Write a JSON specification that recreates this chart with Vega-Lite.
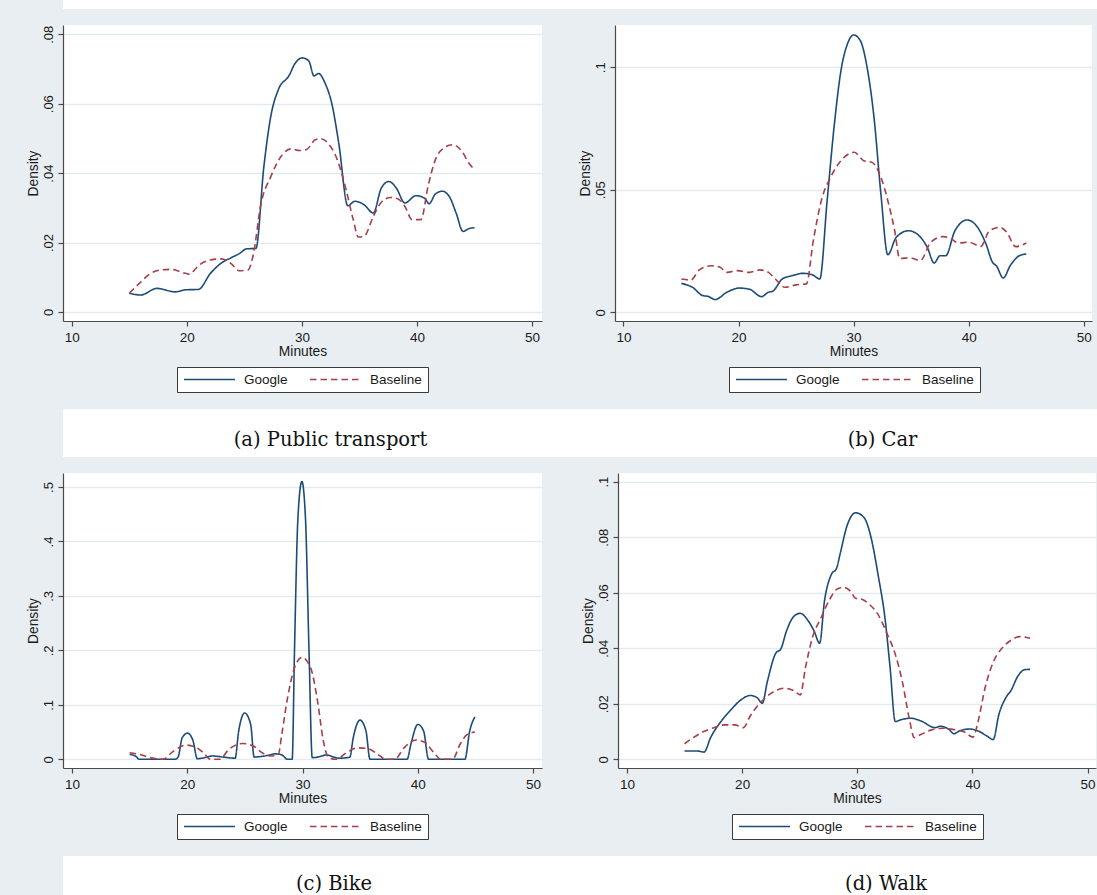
{
  "$schema": "https://vega.github.io/schema/vega-lite/v6.json",
  "background": "#e8eef1",
  "padding": {"left": 26, "top": 0, "right": 0, "bottom": 0},
  "autosize": {"type": "pad"},
  "config": {
    "font": "Liberation Sans",
    "view": {"stroke": null},
    "axis": {
      "domainColor": "#4a4a4a", "domainWidth": 1.2, "tickColor": "#4a4a4a", "tickWidth": 1.2, "tickSize": 5,
      "labelFont": "Liberation Sans", "labelFontSize": 13, "labelColor": "#1a1a1a",
      "titleFont": "Liberation Sans", "titleFontSize": 13.8, "titleFontWeight": "normal", "titleColor": "#1a1a1a",
      "gridColor": "#e2ebef", "gridWidth": 1.3, "labelFlush": false, "labelOverlap": false
    },
    "axisY": {"labelAngle": 270, "labelAlign": "center", "labelBaseline": "bottom", "labelPadding": 3, "titlePadding": 2, "grid": true},
    "axisX": {"labelPadding": 4, "titlePadding": 1, "labelFontSize": 13.5, "grid": false},
    "legend": {
      "orient": "none", "legendX": 114, "direction": "horizontal",
      "symbolType": "stroke", "symbolSize": 2601, "symbolStrokeWidth": 1.6, "clipHeight": 13,
      "labelFont": "Liberation Sans", "labelFontSize": 13.5, "labelColor": "#1a1a1a",
      "labelOffset": 8, "columnPadding": 21, "padding": 6,
      "strokeColor": "#3a3a3a", "fillColor": "white"
    },
    "line": {"strokeWidth": 1.6, "interpolate": "monotone"}
  },
  "datasets": {
    "captions": [
      {"caption": "(a) Public transport"}, {"caption": "(b) Car"}, {"caption": "(c) Bike"}, {"caption": "(d) Walk"}
    ],
    "pt": [
      {"minutes": 15.0, "density": 0.0054, "series": "Google"},
      {"minutes": 16.0, "density": 0.0049, "series": "Google"},
      {"minutes": 17.4, "density": 0.0068, "series": "Google"},
      {"minutes": 19.0, "density": 0.0058, "series": "Google"},
      {"minutes": 19.9, "density": 0.0064, "series": "Google"},
      {"minutes": 21.0, "density": 0.0065, "series": "Google"},
      {"minutes": 22.07, "density": 0.0112, "series": "Google"},
      {"minutes": 23.0, "density": 0.0141, "series": "Google"},
      {"minutes": 23.9, "density": 0.0157, "series": "Google"},
      {"minutes": 24.6, "density": 0.0169, "series": "Google"},
      {"minutes": 25.2, "density": 0.0182, "series": "Google"},
      {"minutes": 26.0, "density": 0.0183, "series": "Google"},
      {"minutes": 26.7, "density": 0.042, "series": "Google"},
      {"minutes": 27.3, "density": 0.0564, "series": "Google"},
      {"minutes": 27.96, "density": 0.0641, "series": "Google"},
      {"minutes": 28.9, "density": 0.0682, "series": "Google"},
      {"minutes": 29.35, "density": 0.0713, "series": "Google"},
      {"minutes": 30.03, "density": 0.0732, "series": "Google"},
      {"minutes": 30.6, "density": 0.0723, "series": "Google"},
      {"minutes": 31.05, "density": 0.068, "series": "Google"},
      {"minutes": 31.45, "density": 0.0687, "series": "Google"},
      {"minutes": 32.0, "density": 0.066, "series": "Google"},
      {"minutes": 32.6, "density": 0.060, "series": "Google"},
      {"minutes": 33.2, "density": 0.0487, "series": "Google"},
      {"minutes": 33.99, "density": 0.0306, "series": "Google"},
      {"minutes": 34.6, "density": 0.0319, "series": "Google"},
      {"minutes": 35.4, "density": 0.0309, "series": "Google"},
      {"minutes": 36.2, "density": 0.0285, "series": "Google"},
      {"minutes": 36.9, "density": 0.0357, "series": "Google"},
      {"minutes": 37.55, "density": 0.0376, "series": "Google"},
      {"minutes": 38.2, "density": 0.0357, "series": "Google"},
      {"minutes": 38.95, "density": 0.0314, "series": "Google"},
      {"minutes": 39.9, "density": 0.0335, "series": "Google"},
      {"minutes": 40.65, "density": 0.0328, "series": "Google"},
      {"minutes": 41.05, "density": 0.0312, "series": "Google"},
      {"minutes": 41.6, "density": 0.034, "series": "Google"},
      {"minutes": 42.2, "density": 0.0348, "series": "Google"},
      {"minutes": 42.8, "density": 0.0333, "series": "Google"},
      {"minutes": 43.4, "density": 0.0285, "series": "Google"},
      {"minutes": 44.0, "density": 0.0232, "series": "Google"},
      {"minutes": 44.5, "density": 0.024, "series": "Google"},
      {"minutes": 45.0, "density": 0.0243, "series": "Google"},
      {"minutes": 15.0, "density": 0.0054, "series": "Baseline"},
      {"minutes": 15.9, "density": 0.0083, "series": "Baseline"},
      {"minutes": 16.8, "density": 0.011, "series": "Baseline"},
      {"minutes": 17.7, "density": 0.0121, "series": "Baseline"},
      {"minutes": 18.67, "density": 0.0123, "series": "Baseline"},
      {"minutes": 19.6, "density": 0.0114, "series": "Baseline"},
      {"minutes": 20.2, "density": 0.0109, "series": "Baseline"},
      {"minutes": 21.1, "density": 0.0136, "series": "Baseline"},
      {"minutes": 22.07, "density": 0.015, "series": "Baseline"},
      {"minutes": 23.0, "density": 0.0153, "series": "Baseline"},
      {"minutes": 23.8, "density": 0.0141, "series": "Baseline"},
      {"minutes": 24.55, "density": 0.0119, "series": "Baseline"},
      {"minutes": 25.3, "density": 0.0121, "series": "Baseline"},
      {"minutes": 25.8, "density": 0.0169, "series": "Baseline"},
      {"minutes": 26.4, "density": 0.0304, "series": "Baseline"},
      {"minutes": 27.3, "density": 0.039, "series": "Baseline"},
      {"minutes": 28.3, "density": 0.0453, "series": "Baseline"},
      {"minutes": 29.04, "density": 0.047, "series": "Baseline"},
      {"minutes": 29.8, "density": 0.0465, "series": "Baseline"},
      {"minutes": 30.4, "density": 0.0468, "series": "Baseline"},
      {"minutes": 31.2, "density": 0.0497, "series": "Baseline"},
      {"minutes": 31.67, "density": 0.0499, "series": "Baseline"},
      {"minutes": 32.3, "density": 0.0485, "series": "Baseline"},
      {"minutes": 33.07, "density": 0.0439, "series": "Baseline"},
      {"minutes": 33.84, "density": 0.0352, "series": "Baseline"},
      {"minutes": 34.46, "density": 0.0266, "series": "Baseline"},
      {"minutes": 34.9, "density": 0.0216, "series": "Baseline"},
      {"minutes": 35.4, "density": 0.0218, "series": "Baseline"},
      {"minutes": 36.2, "density": 0.0275, "series": "Baseline"},
      {"minutes": 36.9, "density": 0.0316, "series": "Baseline"},
      {"minutes": 37.7, "density": 0.033, "series": "Baseline"},
      {"minutes": 38.33, "density": 0.0326, "series": "Baseline"},
      {"minutes": 38.95, "density": 0.0304, "series": "Baseline"},
      {"minutes": 39.57, "density": 0.0266, "series": "Baseline"},
      {"minutes": 40.34, "density": 0.0266, "series": "Baseline"},
      {"minutes": 40.96, "density": 0.0362, "series": "Baseline"},
      {"minutes": 41.6, "density": 0.0439, "series": "Baseline"},
      {"minutes": 42.35, "density": 0.0473, "series": "Baseline"},
      {"minutes": 43.1, "density": 0.0482, "series": "Baseline"},
      {"minutes": 43.9, "density": 0.0463, "series": "Baseline"},
      {"minutes": 44.5, "density": 0.0429, "series": "Baseline"},
      {"minutes": 45.0, "density": 0.041, "series": "Baseline"}
    ],
    "car": [
      {"minutes": 15.04, "density": 0.0118, "series": "Google"},
      {"minutes": 16.0, "density": 0.0102, "series": "Google"},
      {"minutes": 16.9, "density": 0.0068, "series": "Google"},
      {"minutes": 17.36, "density": 0.0065, "series": "Google"},
      {"minutes": 17.96, "density": 0.0052, "series": "Google"},
      {"minutes": 19.0, "density": 0.0082, "series": "Google"},
      {"minutes": 20.06, "density": 0.0099, "series": "Google"},
      {"minutes": 20.96, "density": 0.0094, "series": "Google"},
      {"minutes": 22.0, "density": 0.0064, "series": "Google"},
      {"minutes": 22.6, "density": 0.0082, "series": "Google"},
      {"minutes": 22.97, "density": 0.0086, "series": "Google"},
      {"minutes": 23.8, "density": 0.0136, "series": "Google"},
      {"minutes": 24.7, "density": 0.015, "series": "Google"},
      {"minutes": 25.56, "density": 0.0159, "series": "Google"},
      {"minutes": 26.37, "density": 0.0154, "series": "Google"},
      {"minutes": 27.06, "density": 0.0136, "series": "Google"},
      {"minutes": 27.7, "density": 0.0456, "series": "Google"},
      {"minutes": 28.3, "density": 0.0755, "series": "Google"},
      {"minutes": 28.9, "density": 0.0986, "series": "Google"},
      {"minutes": 29.5, "density": 0.110, "series": "Google"},
      {"minutes": 30.0, "density": 0.1132, "series": "Google"},
      {"minutes": 30.57, "density": 0.111, "series": "Google"},
      {"minutes": 31.17, "density": 0.100, "series": "Google"},
      {"minutes": 31.77, "density": 0.0796, "series": "Google"},
      {"minutes": 32.37, "density": 0.0483, "series": "Google"},
      {"minutes": 32.97, "density": 0.0235, "series": "Google"},
      {"minutes": 33.7, "density": 0.0306, "series": "Google"},
      {"minutes": 34.77, "density": 0.0333, "series": "Google"},
      {"minutes": 35.68, "density": 0.0313, "series": "Google"},
      {"minutes": 36.4, "density": 0.0265, "series": "Google"},
      {"minutes": 37.0, "density": 0.0201, "series": "Google"},
      {"minutes": 37.5, "density": 0.0231, "series": "Google"},
      {"minutes": 38.0, "density": 0.0231, "series": "Google"},
      {"minutes": 38.8, "density": 0.0333, "series": "Google"},
      {"minutes": 39.86, "density": 0.0377, "series": "Google"},
      {"minutes": 40.77, "density": 0.0347, "series": "Google"},
      {"minutes": 41.5, "density": 0.0279, "series": "Google"},
      {"minutes": 42.07, "density": 0.0204, "series": "Google"},
      {"minutes": 42.4, "density": 0.019, "series": "Google"},
      {"minutes": 43.0, "density": 0.014, "series": "Google"},
      {"minutes": 43.6, "density": 0.019, "series": "Google"},
      {"minutes": 44.4, "density": 0.0231, "series": "Google"},
      {"minutes": 45.0, "density": 0.0238, "series": "Google"},
      {"minutes": 15.04, "density": 0.0136, "series": "Baseline"},
      {"minutes": 15.86, "density": 0.0132, "series": "Baseline"},
      {"minutes": 16.6, "density": 0.0173, "series": "Baseline"},
      {"minutes": 17.66, "density": 0.019, "series": "Baseline"},
      {"minutes": 18.4, "density": 0.0184, "series": "Baseline"},
      {"minutes": 19.0, "density": 0.0163, "series": "Baseline"},
      {"minutes": 19.9, "density": 0.017, "series": "Baseline"},
      {"minutes": 20.96, "density": 0.0163, "series": "Baseline"},
      {"minutes": 21.86, "density": 0.0173, "series": "Baseline"},
      {"minutes": 22.6, "density": 0.0163, "series": "Baseline"},
      {"minutes": 23.2, "density": 0.0136, "series": "Baseline"},
      {"minutes": 24.05, "density": 0.0102, "series": "Baseline"},
      {"minutes": 25.0, "density": 0.0112, "series": "Baseline"},
      {"minutes": 25.9, "density": 0.0116, "series": "Baseline"},
      {"minutes": 26.5, "density": 0.0293, "series": "Baseline"},
      {"minutes": 27.27, "density": 0.0469, "series": "Baseline"},
      {"minutes": 28.0, "density": 0.0551, "series": "Baseline"},
      {"minutes": 28.9, "density": 0.0619, "series": "Baseline"},
      {"minutes": 30.06, "density": 0.0653, "series": "Baseline"},
      {"minutes": 30.87, "density": 0.0619, "series": "Baseline"},
      {"minutes": 31.6, "density": 0.0612, "series": "Baseline"},
      {"minutes": 32.37, "density": 0.0551, "series": "Baseline"},
      {"minutes": 32.97, "density": 0.0456, "series": "Baseline"},
      {"minutes": 33.57, "density": 0.0333, "series": "Baseline"},
      {"minutes": 34.0, "density": 0.022, "series": "Baseline"},
      {"minutes": 34.9, "density": 0.0222, "series": "Baseline"},
      {"minutes": 35.8, "density": 0.0211, "series": "Baseline"},
      {"minutes": 36.7, "density": 0.0286, "series": "Baseline"},
      {"minutes": 37.8, "density": 0.0309, "series": "Baseline"},
      {"minutes": 38.5, "density": 0.0299, "series": "Baseline"},
      {"minutes": 39.1, "density": 0.0283, "series": "Baseline"},
      {"minutes": 40.0, "density": 0.0286, "series": "Baseline"},
      {"minutes": 41.05, "density": 0.0269, "series": "Baseline"},
      {"minutes": 41.8, "density": 0.0333, "series": "Baseline"},
      {"minutes": 42.7, "density": 0.0347, "series": "Baseline"},
      {"minutes": 43.3, "density": 0.0327, "series": "Baseline"},
      {"minutes": 44.08, "density": 0.0268, "series": "Baseline"},
      {"minutes": 45.0, "density": 0.0283, "series": "Baseline"}
    ],
    "bike": [
      {"minutes": 15.0, "density": 0.009, "series": "Google"},
      {"minutes": 15.5, "density": 0.006, "series": "Google"},
      {"minutes": 15.85, "density": 0.0, "series": "Google"},
      {"minutes": 18.95, "density": 0.0, "series": "Google"},
      {"minutes": 19.2, "density": 0.004, "series": "Google"},
      {"minutes": 19.57, "density": 0.040, "series": "Google"},
      {"minutes": 20.03, "density": 0.048, "series": "Google"},
      {"minutes": 20.5, "density": 0.034, "series": "Google"},
      {"minutes": 20.87, "density": 0.001, "series": "Google"},
      {"minutes": 21.27, "density": 0.002, "series": "Google"},
      {"minutes": 22.2, "density": 0.006, "series": "Google"},
      {"minutes": 23.13, "density": 0.004, "series": "Google"},
      {"minutes": 24.15, "density": 0.002, "series": "Google"},
      {"minutes": 24.46, "density": 0.052, "series": "Google"},
      {"minutes": 24.98, "density": 0.085, "series": "Google"},
      {"minutes": 25.5, "density": 0.064, "series": "Google"},
      {"minutes": 25.8, "density": 0.004, "series": "Google"},
      {"minutes": 26.5, "density": 0.0055, "series": "Google"},
      {"minutes": 27.15, "density": 0.008, "series": "Google"},
      {"minutes": 27.6, "density": 0.010, "series": "Google"},
      {"minutes": 28.2, "density": 0.008, "series": "Google"},
      {"minutes": 28.7, "density": 0.0, "series": "Google"},
      {"minutes": 29.1, "density": 0.0, "series": "Google"},
      {"minutes": 29.3, "density": 0.199, "series": "Google"},
      {"minutes": 29.6, "density": 0.444, "series": "Google"},
      {"minutes": 29.94, "density": 0.510, "series": "Google"},
      {"minutes": 30.25, "density": 0.444, "series": "Google"},
      {"minutes": 30.56, "density": 0.199, "series": "Google"},
      {"minutes": 30.84, "density": 0.003, "series": "Google"},
      {"minutes": 31.3, "density": 0.004, "series": "Google"},
      {"minutes": 32.1, "density": 0.008, "series": "Google"},
      {"minutes": 32.7, "density": 0.004, "series": "Google"},
      {"minutes": 33.2, "density": 0.002, "series": "Google"},
      {"minutes": 34.1, "density": 0.004, "series": "Google"},
      {"minutes": 34.4, "density": 0.040, "series": "Google"},
      {"minutes": 34.98, "density": 0.072, "series": "Google"},
      {"minutes": 35.5, "density": 0.052, "series": "Google"},
      {"minutes": 35.85, "density": 0.0, "series": "Google"},
      {"minutes": 39.07, "density": 0.0, "series": "Google"},
      {"minutes": 39.4, "density": 0.028, "series": "Google"},
      {"minutes": 40.0, "density": 0.064, "series": "Google"},
      {"minutes": 40.5, "density": 0.052, "series": "Google"},
      {"minutes": 40.93, "density": 0.0, "series": "Google"},
      {"minutes": 44.08, "density": 0.0, "series": "Google"},
      {"minutes": 44.5, "density": 0.052, "series": "Google"},
      {"minutes": 44.95, "density": 0.078, "series": "Google"},
      {"minutes": 15.0, "density": 0.012, "series": "Baseline"},
      {"minutes": 15.85, "density": 0.009, "series": "Baseline"},
      {"minutes": 16.8, "density": 0.003, "series": "Baseline"},
      {"minutes": 17.86, "density": 0.0, "series": "Baseline"},
      {"minutes": 18.8, "density": 0.015, "series": "Baseline"},
      {"minutes": 19.9, "density": 0.026, "series": "Baseline"},
      {"minutes": 20.65, "density": 0.023, "series": "Baseline"},
      {"minutes": 21.4, "density": 0.012, "series": "Baseline"},
      {"minutes": 22.0, "density": 0.0, "series": "Baseline"},
      {"minutes": 22.8, "density": 0.0, "series": "Baseline"},
      {"minutes": 23.6, "density": 0.018, "series": "Baseline"},
      {"minutes": 24.83, "density": 0.029, "series": "Baseline"},
      {"minutes": 25.76, "density": 0.024, "series": "Baseline"},
      {"minutes": 26.5, "density": 0.012, "series": "Baseline"},
      {"minutes": 27.3, "density": 0.006, "series": "Baseline"},
      {"minutes": 27.9, "density": 0.009, "series": "Baseline"},
      {"minutes": 28.2, "density": 0.046, "series": "Baseline"},
      {"minutes": 28.7, "density": 0.113, "series": "Baseline"},
      {"minutes": 29.3, "density": 0.168, "series": "Baseline"},
      {"minutes": 29.94, "density": 0.187, "series": "Baseline"},
      {"minutes": 30.7, "density": 0.168, "series": "Baseline"},
      {"minutes": 31.3, "density": 0.107, "series": "Baseline"},
      {"minutes": 31.8, "density": 0.034, "series": "Baseline"},
      {"minutes": 32.26, "density": 0.003, "series": "Baseline"},
      {"minutes": 32.9, "density": 0.0, "series": "Baseline"},
      {"minutes": 33.8, "density": 0.012, "series": "Baseline"},
      {"minutes": 34.74, "density": 0.021, "series": "Baseline"},
      {"minutes": 35.67, "density": 0.0196, "series": "Baseline"},
      {"minutes": 36.6, "density": 0.008, "series": "Baseline"},
      {"minutes": 37.2, "density": 0.0, "series": "Baseline"},
      {"minutes": 38.0, "density": 0.0, "series": "Baseline"},
      {"minutes": 38.8, "density": 0.021, "series": "Baseline"},
      {"minutes": 39.85, "density": 0.0355, "series": "Baseline"},
      {"minutes": 40.6, "density": 0.031, "series": "Baseline"},
      {"minutes": 41.4, "density": 0.012, "series": "Baseline"},
      {"minutes": 42.0, "density": 0.0, "series": "Baseline"},
      {"minutes": 43.0, "density": 0.0, "series": "Baseline"},
      {"minutes": 43.7, "density": 0.029, "series": "Baseline"},
      {"minutes": 44.3, "density": 0.046, "series": "Baseline"},
      {"minutes": 44.95, "density": 0.05, "series": "Baseline"}
    ],
    "walk": [
      {"minutes": 15.0, "density": 0.003, "series": "Google"},
      {"minutes": 16.06, "density": 0.003, "series": "Google"},
      {"minutes": 16.7, "density": 0.0026, "series": "Google"},
      {"minutes": 17.26, "density": 0.0078, "series": "Google"},
      {"minutes": 18.16, "density": 0.0136, "series": "Google"},
      {"minutes": 19.06, "density": 0.018, "series": "Google"},
      {"minutes": 19.96, "density": 0.0216, "series": "Google"},
      {"minutes": 20.7, "density": 0.023, "series": "Google"},
      {"minutes": 21.3, "density": 0.0222, "series": "Google"},
      {"minutes": 21.75, "density": 0.0202, "series": "Google"},
      {"minutes": 22.2, "density": 0.0282, "series": "Google"},
      {"minutes": 22.95, "density": 0.0384, "series": "Google"},
      {"minutes": 23.34, "density": 0.0396, "series": "Google"},
      {"minutes": 23.85, "density": 0.0462, "series": "Google"},
      {"minutes": 24.45, "density": 0.0513, "series": "Google"},
      {"minutes": 25.05, "density": 0.0526, "series": "Google"},
      {"minutes": 25.65, "density": 0.0504, "series": "Google"},
      {"minutes": 26.25, "density": 0.0462, "series": "Google"},
      {"minutes": 26.73, "density": 0.0418, "series": "Google"},
      {"minutes": 27.15, "density": 0.057, "series": "Google"},
      {"minutes": 27.75, "density": 0.0666, "series": "Google"},
      {"minutes": 28.2, "density": 0.0688, "series": "Google"},
      {"minutes": 28.5, "density": 0.0738, "series": "Google"},
      {"minutes": 29.1, "density": 0.084, "series": "Google"},
      {"minutes": 29.85, "density": 0.0888, "series": "Google"},
      {"minutes": 30.6, "density": 0.087, "series": "Google"},
      {"minutes": 31.2, "density": 0.0798, "series": "Google"},
      {"minutes": 31.8, "density": 0.0666, "series": "Google"},
      {"minutes": 32.4, "density": 0.051, "series": "Google"},
      {"minutes": 32.85, "density": 0.033, "series": "Google"},
      {"minutes": 33.3, "density": 0.0136, "series": "Google"},
      {"minutes": 33.75, "density": 0.0142, "series": "Google"},
      {"minutes": 34.64, "density": 0.0148, "series": "Google"},
      {"minutes": 35.54, "density": 0.0138, "series": "Google"},
      {"minutes": 36.75, "density": 0.0114, "series": "Google"},
      {"minutes": 37.2, "density": 0.0119, "series": "Google"},
      {"minutes": 37.95, "density": 0.0108, "series": "Google"},
      {"minutes": 38.4, "density": 0.0092, "series": "Google"},
      {"minutes": 38.85, "density": 0.0102, "series": "Google"},
      {"minutes": 39.75, "density": 0.0109, "series": "Google"},
      {"minutes": 40.5, "density": 0.0102, "series": "Google"},
      {"minutes": 41.25, "density": 0.0084, "series": "Google"},
      {"minutes": 41.8, "density": 0.0071, "series": "Google"},
      {"minutes": 42.3, "density": 0.0162, "series": "Google"},
      {"minutes": 42.9, "density": 0.0222, "series": "Google"},
      {"minutes": 43.35, "density": 0.0248, "series": "Google"},
      {"minutes": 43.95, "density": 0.030, "series": "Google"},
      {"minutes": 44.55, "density": 0.0323, "series": "Google"},
      {"minutes": 45.0, "density": 0.0324, "series": "Google"},
      {"minutes": 15.0, "density": 0.0056, "series": "Baseline"},
      {"minutes": 15.76, "density": 0.0078, "series": "Baseline"},
      {"minutes": 16.66, "density": 0.010, "series": "Baseline"},
      {"minutes": 17.56, "density": 0.0114, "series": "Baseline"},
      {"minutes": 18.46, "density": 0.0124, "series": "Baseline"},
      {"minutes": 19.36, "density": 0.0124, "series": "Baseline"},
      {"minutes": 20.1, "density": 0.0114, "series": "Baseline"},
      {"minutes": 20.7, "density": 0.0156, "series": "Baseline"},
      {"minutes": 21.45, "density": 0.0198, "series": "Baseline"},
      {"minutes": 22.2, "density": 0.0228, "series": "Baseline"},
      {"minutes": 22.95, "density": 0.0248, "series": "Baseline"},
      {"minutes": 23.7, "density": 0.0256, "series": "Baseline"},
      {"minutes": 24.45, "density": 0.0248, "series": "Baseline"},
      {"minutes": 25.05, "density": 0.0232, "series": "Baseline"},
      {"minutes": 25.5, "density": 0.033, "series": "Baseline"},
      {"minutes": 26.1, "density": 0.0438, "series": "Baseline"},
      {"minutes": 26.85, "density": 0.051, "series": "Baseline"},
      {"minutes": 27.6, "density": 0.0576, "series": "Baseline"},
      {"minutes": 28.2, "density": 0.0612, "series": "Baseline"},
      {"minutes": 28.8, "density": 0.062, "series": "Baseline"},
      {"minutes": 29.4, "density": 0.0606, "series": "Baseline"},
      {"minutes": 29.85, "density": 0.058, "series": "Baseline"},
      {"minutes": 30.45, "density": 0.0576, "series": "Baseline"},
      {"minutes": 31.05, "density": 0.0558, "series": "Baseline"},
      {"minutes": 31.8, "density": 0.0522, "series": "Baseline"},
      {"minutes": 32.55, "density": 0.0456, "series": "Baseline"},
      {"minutes": 33.3, "density": 0.0378, "series": "Baseline"},
      {"minutes": 33.9, "density": 0.0282, "series": "Baseline"},
      {"minutes": 34.5, "density": 0.015, "series": "Baseline"},
      {"minutes": 34.95, "density": 0.0078, "series": "Baseline"},
      {"minutes": 35.55, "density": 0.009, "series": "Baseline"},
      {"minutes": 36.45, "density": 0.0106, "series": "Baseline"},
      {"minutes": 37.5, "density": 0.0112, "series": "Baseline"},
      {"minutes": 38.4, "density": 0.0107, "series": "Baseline"},
      {"minutes": 39.3, "density": 0.0098, "series": "Baseline"},
      {"minutes": 40.05, "density": 0.008, "series": "Baseline"},
      {"minutes": 40.5, "density": 0.0138, "series": "Baseline"},
      {"minutes": 41.1, "density": 0.0258, "series": "Baseline"},
      {"minutes": 41.85, "density": 0.0354, "series": "Baseline"},
      {"minutes": 42.6, "density": 0.0402, "series": "Baseline"},
      {"minutes": 43.35, "density": 0.0429, "series": "Baseline"},
      {"minutes": 44.1, "density": 0.0442, "series": "Baseline"},
      {"minutes": 45.0, "density": 0.0436, "series": "Baseline"}
    ]
  },
  "spacing": 16,
  "resolve": {"scale": {"color": "independent", "strokeDash": "independent"}, "legend": {"color": "independent", "strokeDash": "independent"}},
  "vconcat": [
    {
      "width": 1034, "height": 9,
      "view": {"fill": "white", "stroke": null},
      "data": {"name": "captions"},
      "transform": [{"filter": "datum.caption == 'none'"}],
      "mark": {"type": "text"},
      "encoding": {"text": {"field": "caption"}}
    },
    {
      "spacing": 36,
      "resolve": {"scale": {"color": "independent", "strokeDash": "independent"}, "legend": {"color": "independent", "strokeDash": "independent"}},
      "hconcat": [
        {
          "width": 479, "height": 296,
          "view": {"fill": "white", "stroke": null},
          "data": {"name": "pt"},
          "mark": {"type": "line", "clip": true},
          "encoding": {
            "x": {"field": "minutes", "type": "quantitative", "title": "Minutes", "scale": {"domain": [9.244, 50.86], "nice": false, "zero": false}, "axis": {"values": [10, 20, 30, 40, 50]}},
            "y": {"field": "density", "type": "quantitative", "title": "Density", "scale": {"domain": [-0.00259, 0.08267], "nice": false, "zero": false}, "axis": {"values": [0, 0.02, 0.04, 0.06, 0.08], "labelExpr": "replace(format(datum.value, '~g'), '0.', '.')"}},
            "color": {"field": "series", "type": "nominal", "scale": {"domain": ["Google", "Baseline"], "range": ["#1d4b77", "#a63f47"]}, "legend": {"title": null, "legendY": 342}},
            "strokeDash": {"field": "series", "type": "nominal", "scale": {"domain": ["Google", "Baseline"], "range": [[1, 0], [6.5, 4]]}, "legend": {"title": null, "legendY": 342}}
          }
        },
        {
          "width": 477, "height": 296,
          "view": {"fill": "white", "stroke": null},
          "data": {"name": "car"},
          "mark": {"type": "line", "clip": true},
          "encoding": {
            "x": {"field": "minutes", "type": "quantitative", "title": "Minutes", "scale": {"domain": [9.27, 50.71], "nice": false, "zero": false}, "axis": {"values": [10, 20, 30, 40, 50]}},
            "y": {"field": "density", "type": "quantitative", "title": "Density", "scale": {"domain": [-0.00355, 0.11727], "nice": false, "zero": false}, "axis": {"values": [0, 0.05, 0.1], "labelExpr": "replace(format(datum.value, '~g'), '0.', '.')"}},
            "color": {"field": "series", "type": "nominal", "scale": {"domain": ["Google", "Baseline"], "range": ["#1d4b77", "#a63f47"]}, "legend": {"title": null, "legendY": 342}},
            "strokeDash": {"field": "series", "type": "nominal", "scale": {"domain": ["Google", "Baseline"], "range": [[1, 0], [6.5, 4]]}, "legend": {"title": null, "legendY": 342}}
          }
        }
      ]
    },
    {
      "spacing": 0,
      "hconcat": [
        {
          "width": 535, "height": 48,
          "view": {"fill": "white", "stroke": null},
          "data": {"name": "captions"},
          "transform": [{"filter": "datum.caption == '(a) Public transport'"}],
          "mark": {"type": "text", "font": "DejaVu Serif", "fontSize": 19.5, "color": "#111111", "dy": 7},
          "encoding": {"text": {"field": "caption"}}
        },
        {
          "width": 499, "height": 48,
          "view": {"fill": "white", "stroke": null},
          "data": {"name": "captions"},
          "transform": [{"filter": "datum.caption == '(b) Car'"}],
          "mark": {"type": "text", "font": "DejaVu Serif", "fontSize": 19.5, "color": "#111111", "dy": 7, "dx": 35},
          "encoding": {"text": {"field": "caption"}}
        }
      ]
    },
    {
      "spacing": 39,
      "resolve": {"scale": {"color": "independent", "strokeDash": "independent"}, "legend": {"color": "independent", "strokeDash": "independent"}},
      "hconcat": [
        {
          "width": 479, "height": 295,
          "view": {"fill": "white", "stroke": null},
          "data": {"name": "bike"},
          "mark": {"type": "line", "clip": true},
          "encoding": {
            "x": {"field": "minutes", "type": "quantitative", "title": "Minutes", "scale": {"domain": [9.22, 50.77], "nice": false, "zero": false}, "axis": {"values": [10, 20, 30, 40, 50]}},
            "y": {"field": "density", "type": "quantitative", "title": "Density", "scale": {"domain": [-0.016, 0.5257], "nice": false, "zero": false}, "axis": {"values": [0, 0.1, 0.2, 0.3, 0.4, 0.5], "labelExpr": "replace(format(datum.value, '~g'), '0.', '.')"}},
            "color": {"field": "series", "type": "nominal", "scale": {"domain": ["Google", "Baseline"], "range": ["#1d4b77", "#a63f47"]}, "legend": {"title": null, "legendY": 341}},
            "strokeDash": {"field": "series", "type": "nominal", "scale": {"domain": ["Google", "Baseline"], "range": [[1, 0], [6.5, 4]]}, "legend": {"title": null, "legendY": 341}}
          }
        },
        {
          "width": 478, "height": 295,
          "view": {"fill": "white", "stroke": null},
          "data": {"name": "walk"},
          "mark": {"type": "line", "clip": true},
          "encoding": {
            "x": {"field": "minutes", "type": "quantitative", "title": "Minutes", "scale": {"domain": [9.22, 50.73], "nice": false, "zero": false}, "axis": {"values": [10, 20, 30, 40, 50]}},
            "y": {"field": "density", "type": "quantitative", "title": "Density", "scale": {"domain": [-0.00313, 0.10313], "nice": false, "zero": false}, "axis": {"values": [0, 0.02, 0.04, 0.06, 0.08, 0.1], "labelExpr": "replace(format(datum.value, '~g'), '0.', '.')"}},
            "color": {"field": "series", "type": "nominal", "scale": {"domain": ["Google", "Baseline"], "range": ["#1d4b77", "#a63f47"]}, "legend": {"title": null, "legendY": 341}},
            "strokeDash": {"field": "series", "type": "nominal", "scale": {"domain": ["Google", "Baseline"], "range": [[1, 0], [6.5, 4]]}, "legend": {"title": null, "legendY": 341}}
          }
        }
      ]
    },
    {
      "spacing": 0,
      "hconcat": [
        {
          "width": 542, "height": 40,
          "view": {"fill": "white", "stroke": null},
          "data": {"name": "captions"},
          "transform": [{"filter": "datum.caption == '(c) Bike'"}],
          "mark": {"type": "text", "font": "DejaVu Serif", "fontSize": 19.5, "color": "#111111", "dy": 8},
          "encoding": {"text": {"field": "caption"}}
        },
        {
          "width": 492, "height": 40,
          "view": {"fill": "white", "stroke": null},
          "data": {"name": "captions"},
          "transform": [{"filter": "datum.caption == '(d) Walk'"}],
          "mark": {"type": "text", "font": "DejaVu Serif", "fontSize": 19.5, "color": "#111111", "dy": 8, "dx": 35},
          "encoding": {"text": {"field": "caption"}}
        }
      ]
    }
  ]
}
